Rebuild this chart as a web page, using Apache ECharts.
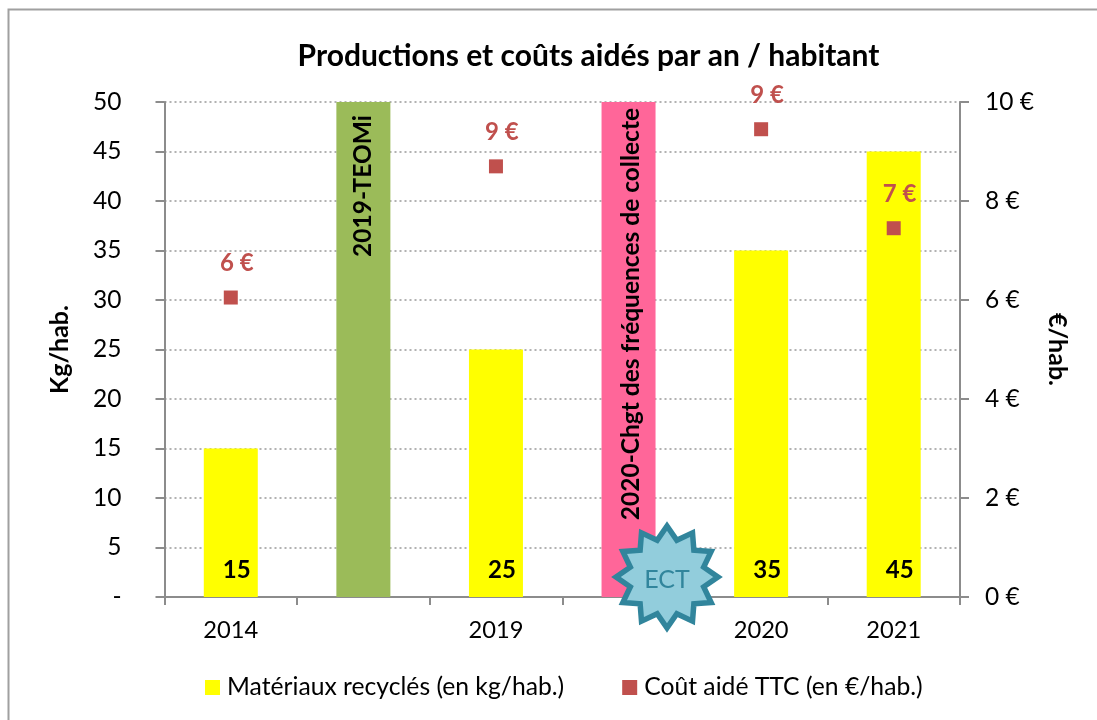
<!DOCTYPE html>
<html><head><meta charset="utf-8">
<style>html,body{margin:0;padding:0;background:#fff}#c{width:1097px;height:720px}</style>
<script src="https://cdn.jsdelivr.net/npm/echarts@6/dist/echarts.min.js"></script>
</head><body><div id="c"></div>
<script>
const categories = ['2014', '', '2019', '', '2020', '2021'];
const kgValues = [15, 50, 25, 50, 35, 45];
const barNotes = ['', '2019-TEOMi', '', '2020-Chgt des fréquences de collecte', '', ''];
const barColors = ['#FFFF00', '#9BBB59', '#FFFF00', '#FF6699', '#FFFF00', '#FFFF00'];
const costValues = [6.05, null, 8.7, null, 9.45, 7.45];
const kgTicks = {min: 0, max: 50, interval: 5};
const costTicks = {min: 0, max: 10, interval: 2};
const FONT = 'Lato';

function star(cx, cy, R, r, n) {
  const pts = [];
  for (let i = 0; i < n * 2; i++) {
    const a = -Math.PI / 2 + i * Math.PI / n, q = i % 2 ? r : R;
    pts.push([cx + q * Math.cos(a), cy + q * Math.sin(a)]);
  }
  return pts;
}

const chart = echarts.init(document.getElementById('c'), null, {renderer: 'canvas'});
chart.setOption({
  animation: false,
  backgroundColor: '#fff',
  textStyle: {fontFamily: FONT},
  title: {text: 'Productions et coûts aidés par an / habitant', left: 583.5, top: 36, textAlign: 'center',
    textStyle: {fontFamily: FONT, fontWeight: 'bold', fontSize: 30, color: '#000'}},
  grid: {left: 164.5, right: 137, top: 102, bottom: 123, containLabel: false},
  legend: {left: 200, top: 670, itemGap: 58, itemWidth: 15, itemHeight: 15, icon: 'rect',
    textStyle: {fontFamily: FONT, fontSize: 24.7, color: '#000', padding: [0, 0, 0, 2]},
    data: [{name: 'Matériaux recyclés (en kg/hab.)', itemStyle: {color: '#FFFF00'}},
           {name: 'Coût aidé TTC (en €/hab.)', itemStyle: {color: '#C0504D'}}]},
  xAxis: {type: 'category', data: categories, boundaryGap: true,
    axisLine: {lineStyle: {color: '#8c8c8c', width: 2}},
    axisTick: {show: true, alignWithLabel: false, length: 8, inside: false, lineStyle: {color: '#8c8c8c', width: 2}, interval: 0},
    axisLabel: {interval: 0, color: '#000', fontSize: 23.7, fontFamily: FONT, margin: 21}},
  yAxis: [
    {type: 'value', ...kgTicks, name: 'Kg/hab.', nameLocation: 'middle', nameGap: 92, nameRotate: 90,
     nameTextStyle: {fontFamily: FONT, fontWeight: 'bold', fontSize: 25, color: '#000'},
     axisLine: {show: true, lineStyle: {color: '#8c8c8c', width: 2}},
     axisTick: {show: true, length: 9, lineStyle: {color: '#8c8c8c', width: 2}},
     axisLabel: {color: '#000', fontSize: 24.5, fontFamily: FONT, margin: 43, formatter: v => v === 0 ? '-' : String(v)},
     splitLine: {show: true, lineStyle: {color: '#999', type: [2, 3], width: 1.5}}},
    {type: 'value', ...costTicks, position: 'right', name: '€/hab.', nameLocation: 'middle', nameGap: 77, nameRotate: -90,
     nameTextStyle: {fontFamily: FONT, fontWeight: 'bold', fontSize: 25, color: '#000'},
     axisLine: {show: true, lineStyle: {color: '#8c8c8c', width: 2}},
     axisTick: {show: true, length: 9, lineStyle: {color: '#8c8c8c', width: 2}},
     axisLabel: {color: '#000', fontSize: 24.5, fontFamily: FONT, margin: 25, formatter: v => v + ' €'},
     splitLine: {show: false}}
  ],
  series: [
    {name: 'Matériaux recyclés (en kg/hab.)', type: 'bar', barWidth: 54, yAxisIndex: 0,
     data: kgValues.map((v, i) => ({
       value: v,
       itemStyle: {color: barColors[i]},
       label: barNotes[i]
         ? {show: true, formatter: barNotes[i], position: 'insideTop', rotate: 90, align: 'right', verticalAlign: 'middle',
            distance: 0, offset: [i === 1 ? -13 : -6, i === 1 ? 0 : 3], fontFamily: FONT, fontWeight: 'bold', fontSize: 24.5, color: '#000'}
         : {show: true, formatter: String(v), position: 'insideBottom', distance: 15, offset: [6, 0],
            fontFamily: FONT, fontWeight: 'bold', fontSize: 24, color: '#000'}
     }))},
    {name: 'Coût aidé TTC (en €/hab.)', type: 'scatter', yAxisIndex: 1, symbol: 'rect', symbolSize: 14,
     itemStyle: {color: '#C0504D', opacity: 1}, z: 5,
     data: costValues,
     label: {show: true, position: 'top', distance: 15, offset: [6, 0], fontFamily: FONT, fontWeight: 'bold', fontSize: 24, color: '#C0504D',
       formatter: p => Math.round(p.value) + ' €'}}
  ],
  graphic: [
    {type: 'rect', silent: true, z: -1, shape: {x: 8.5, y: 9.5, width: 1200, height: 800}, style: {fill: 'none', stroke: '#a0a0a0', lineWidth: 2}},
    {type: 'polygon', z: 20, shape: {points: star(667, 577, 51, 38, 12)}, style: {fill: '#92CDDC', stroke: '#31859C', lineWidth: 5.5, lineJoin: 'miter', miterLimit: 4}},
    {type: 'text', z: 21, x: 667, y: 580, style: {text: 'ECT', fontFamily: FONT, fontSize: 25, fill: '#31859C', align: 'center', verticalAlign: 'middle'}}
  ]
});
</script></body></html>
